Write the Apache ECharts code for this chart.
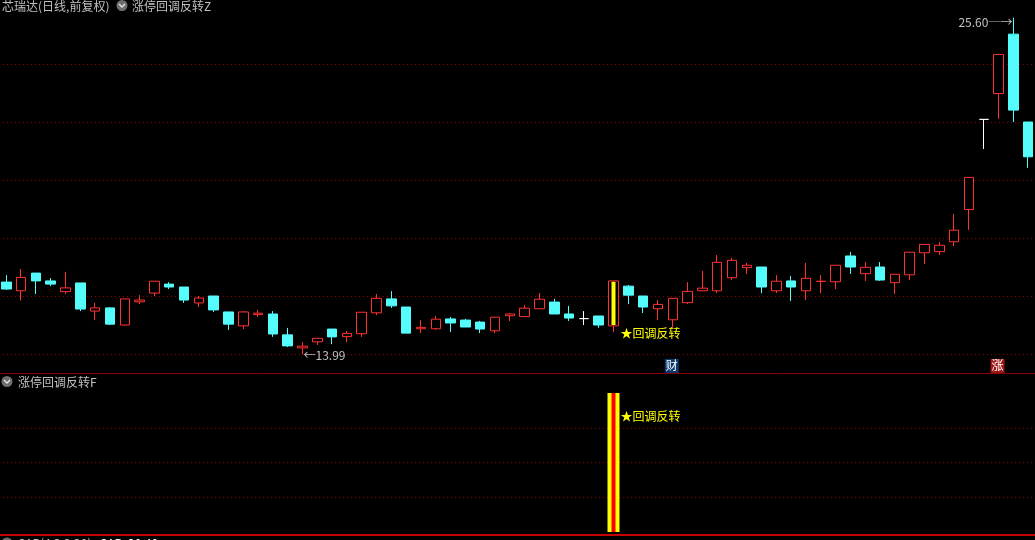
<!DOCTYPE html>
<html>
<head>
<meta charset="utf-8">
<style>html,body{margin:0;padding:0;background:#000}#c{width:1035px;height:540px}</style>
<script src="https://cdn.jsdelivr.net/npm/echarts@6/dist/echarts.min.js"></script>
</head>
<body>
<div id="c"></div>
<script>
// [open, close, low, high] per trading day
const candles = [
[16.48,16.24,16.21,16.72],[16.18,16.64,15.84,16.93],[16.79,16.52,16.07,16.79],[16.52,16.41,16.34,16.62],
[16.15,16.28,16.07,16.83],[16.45,15.55,15.48,16.45],[15.48,15.59,15.17,15.76],[15.59,15.03,15.00,15.62],
[15.00,15.90,14.97,15.90],[15.80,15.86,15.72,16.03],[16.10,16.51,16.00,16.51],[16.41,16.31,16.24,16.48],
[16.31,15.86,15.76,16.31],[15.76,15.93,15.62,16.00],[16.00,15.52,15.45,16.00],[15.45,15.03,14.83,15.45],
[14.97,15.45,14.86,15.48],[15.36,15.41,15.28,15.52],[15.38,14.69,14.59,15.48],[14.66,14.28,14.24,14.90],
[14.21,14.27,13.99,14.41],[14.42,14.54,14.31,14.54],[14.86,14.59,14.34,14.86],[14.60,14.71,14.41,14.79],
[14.70,15.44,14.59,15.44],[15.42,15.92,15.34,16.07],[15.90,15.66,15.59,16.17],[15.62,14.72,14.72,15.62],
[14.87,14.92,14.72,15.17],[14.87,15.20,14.83,15.31],[15.21,15.07,14.76,15.28],[15.17,14.93,14.93,15.21],
[15.10,14.86,14.72,15.14],[14.80,15.27,14.72,15.27],[15.32,15.38,15.14,15.41],[15.29,15.58,15.29,15.69],
[15.56,15.89,15.56,16.10],[15.79,15.38,15.38,15.90],[15.38,15.24,15.14,15.66],[15.22,15.22,15.00,15.48],
[15.31,15.00,14.90,15.31],[14.97,16.52,14.76,16.52],[16.34,16.03,15.72,16.38],[16.00,15.62,15.41,16.00],
[15.56,15.71,15.17,15.86],[15.18,15.92,14.90,15.92],[15.77,16.16,15.72,16.48],[16.18,16.27,16.18,16.86],
[16.18,17.16,16.10,17.41],[16.63,17.23,16.55,17.31],[16.98,17.06,16.76,17.14],[17.00,16.31,16.10,17.00],
[16.18,16.51,16.10,16.72],[16.52,16.31,15.83,16.69],[16.18,16.61,15.86,17.14],[16.50,16.51,16.10,16.72],
[16.49,17.06,16.24,17.06],[17.38,17.00,16.76,17.52],[16.77,16.99,16.52,17.17],[17.00,16.55,16.52,17.17],
[16.46,16.75,16.07,16.75],[16.73,17.51,16.55,17.51],[17.49,17.78,17.10,17.78],[17.53,17.75,17.41,17.86],
[17.87,18.27,17.72,18.83],[18.98,20.09,18.28,20.09],[22.09,22.09,21.07,22.09],[22.98,24.33,22.11,24.33],
[25.03,22.41,22.00,25.60],[22.00,20.80,20.42,22.00]
];
const days = candles.map((_, i) => 'D' + (i + 1));
const signalIndex = 41;
const signalBody = [14.97, 16.52];
const signalLevel = 1;
const axisPriceTicks = { min: 12, max: 26, interval: 2 };
const lowLabel = '←13.99', highLabel = '25.60';
const lowPoint = [20, 13.99], highPoint = [68, 25.60];
const signalText = '★回调反转';
const financeDay = 45, limitDay = 67;

const RED = '#ff3232', CYAN = '#54fcfc', GREY = '#c0c0c0', YEL = '#ffff00';
const FONT = '"Noto Sans CJK SC","Liberation Sans",sans-serif';
const dotted = { show: true, showMinLine: false, showMaxLine: false,
  lineStyle: { color: '#900000', type: [1, 3], width: 1 } };

function only(idx, val) { return days.map((_, i) => i === idx ? val : '-'); }
const tag = (coord, text, label) => ({ coord, symbol: 'circle', symbolSize: 0,
  label: Object.assign({ show: true, formatter: text, fontSize: 12, fontFamily: FONT }, label) });

const chart = echarts.init(document.getElementById('c'), null, { renderer: 'canvas' });
chart.setOption({
  backgroundColor: '#000',
  animation: false,
  textStyle: { fontFamily: FONT },
  grid: [
    { left: -1.1, width: 1036.7, top: 6, height: 406, outerBoundsMode: 'none' },
    { left: -1.1, width: 1036.7, top: 393, height: 139, outerBoundsMode: 'none' }
  ],
  xAxis: [0, 1].map(g => ({ type: 'category', gridIndex: g, data: days, show: false, boundaryGap: true })),
  yAxis: [
    { gridIndex: 0, type: 'value', min: axisPriceTicks.min, max: axisPriceTicks.max, interval: axisPriceTicks.interval,
      axisLine: { show: false }, axisTick: { show: false }, axisLabel: { show: false }, splitLine: dotted },
    { gridIndex: 1, type: 'value', min: 0, max: signalLevel, interval: signalLevel / 4,
      axisLine: { show: false }, axisTick: { show: false }, axisLabel: { show: false }, splitLine: dotted }
  ],
  series: [
    { type: 'candlestick', xAxisIndex: 0, yAxisIndex: 0, barWidth: 10,
      data: candles,
      itemStyle: { color: '#000', color0: CYAN, borderColor: RED, borderColor0: CYAN,
                   borderColorDoji: '#fff', borderWidth: 1 },
      markPoint: {
        silent: true,
        data: [
          tag(lowPoint, lowLabel, { position: 'right', color: GREY, offset: [-4, 1] }),
          tag(highPoint, highLabel + '─→', { position: 'left', color: GREY, offset: [4, 5] }),
          tag([signalIndex, 14.76], signalText, { position: 'right', color: YEL, offset: [2, 1] }),
          tag([financeDay, 13.59], '财', { position: 'inside', color: '#fff', backgroundColor: '#0c3a6e', padding: [1, 1], offset: [-1, 0] }),
          tag([limitDay, 13.59], '涨', { position: 'inside', color: '#fff', backgroundColor: '#a01818', padding: [1, 1], offset: [-1, 0] })
        ]
      }
    },
    { type: 'candlestick', xAxisIndex: 0, yAxisIndex: 0, barWidth: 5, z: 3,
      data: only(signalIndex, [signalBody[0] + 0.03, signalBody[1] - 0.03, signalBody[0] + 0.03, signalBody[1] - 0.03]),
      itemStyle: { color: YEL, borderColor: YEL, borderWidth: 0 } },
    { type: 'candlestick', xAxisIndex: 1, yAxisIndex: 1, barWidth: 13,
      data: only(signalIndex, [0, signalLevel, 0, signalLevel]),
      itemStyle: { color: YEL, borderColor: YEL, borderWidth: 0 },
      markPoint: { silent: true,
        data: [tag([signalIndex, 0.84], signalText, { position: 'right', color: YEL, offset: [2, 1] })] } },
    { type: 'candlestick', xAxisIndex: 1, yAxisIndex: 1, barWidth: 5, z: 3,
      data: only(signalIndex, [0, signalLevel, 0, signalLevel]),
      itemStyle: { color: '#ff0000', borderColor: '#ff0000', borderWidth: 0 } }
  ],
  graphic: [
    { type: 'line', silent: true, shape: { x1: 0, y1: 373.5, x2: 1035, y2: 373.5 }, style: { stroke: '#8c0000', lineWidth: 1 } },
    { type: 'line', silent: true, shape: { x1: 0, y1: 535, x2: 1035, y2: 535 }, style: { stroke: '#c80000', lineWidth: 2 } },
    { type: 'text', silent: true, x: 2, y: 0, style: { text: '芯瑞达(日线,前复权)', fill: GREY, font: '12px ' + FONT } },
    { type: 'circle', silent: true, shape: { cx: 122, cy: 5.5, r: 5.5 }, style: { fill: '#6e6e6e' } },
    { type: 'polyline', silent: true, shape: { points: [[119, 4], [122, 7], [125, 4]] }, style: { stroke: '#e8e8e8', fill: 'none', lineWidth: 1.3 } },
    { type: 'text', silent: true, x: 132, y: 0, style: { text: '涨停回调反转Z', fill: GREY, font: '12px ' + FONT } },
    { type: 'circle', silent: true, shape: { cx: 7, cy: 381.5, r: 5.5 }, style: { fill: '#6e6e6e' } },
    { type: 'polyline', silent: true, shape: { points: [[4, 380], [7, 383], [10, 380]] }, style: { stroke: '#e8e8e8', fill: 'none', lineWidth: 1.3 } },
    { type: 'text', silent: true, x: 18, y: 376, style: { text: '涨停回调反转F', fill: GREY, font: '12px ' + FONT } },
    { type: 'circle', silent: true, shape: { cx: 7, cy: 543, r: 5.5 }, style: { fill: '#6e6e6e' } },
    { type: 'text', silent: true, x: 18, y: 537, style: { text: 'SAR(4,2,2,20)', fill: GREY, font: '12px ' + FONT } },
    { type: 'text', silent: true, x: 100, y: 537, style: { text: 'SAR: 20.40', fill: '#ffffff', font: '12px ' + FONT } }
  ]
});
</script>
</body>
</html>
